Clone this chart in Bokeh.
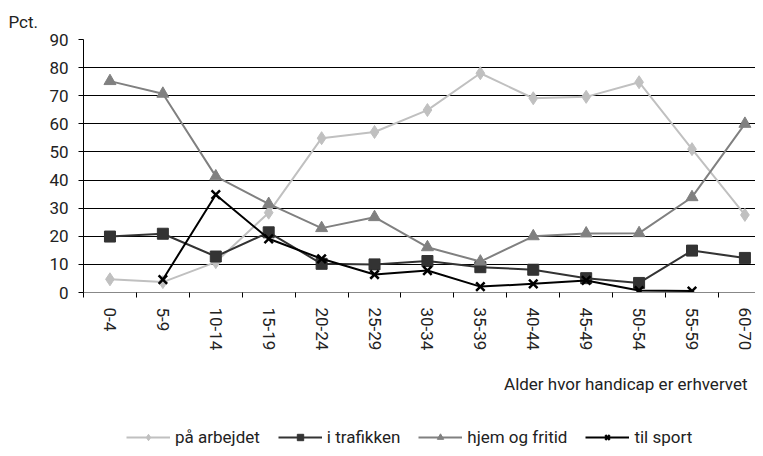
import math
from bokeh.plotting import figure
from bokeh.layouts import column
from bokeh.models import (Range1d, FixedTicker, Title, Legend, LegendItem,
                          ColumnDataSource)
from bokeh.embed import file_html
from bokeh.resources import INLINE

categories = ["0-4", "5-9", "10-14", "15-19", "20-24", "25-29", "30-34",
              "35-39", "40-44", "45-49", "50-54", "55-59", "60-70"]
paa_arbejdet = [4.7, 3.7, 10.8, 28.4, 54.9, 57.1, 64.9, 78.0, 69.1, 69.6, 74.8, 51.0, 27.6]
i_trafikken = [19.9, 20.9, 12.8, 21.4, 10.2, 10.0, 11.2, 9.0, 8.1, 5.1, 3.4, 14.9, 12.3]
hjem_fritid = [75.2, 70.7, 41.3, 31.5, 22.9, 26.8, 16.1, 11.0, 20.0, 21.0, 21.1, 33.9, 60.0]
til_sport = [float("nan"), 4.6, 34.8, 19.1, 12.0, 6.4, 7.8, 2.1, 3.1, 4.3, 0.7, 0.5, float("nan")]
series_names = ["på arbejdet", "i trafikken", "hjem og fritid", "til sport"]
y_ticks = [0, 10, 20, 30, 40, 50, 60, 70, 80, 90]

FONT = "Roboto"
TXT = "#222222"

xc = [i + 0.5 for i in range(len(categories))]
src = ColumnDataSource(dict(x=xc, a=paa_arbejdet, t=i_trafikken, h=hjem_fritid, s=til_sport))

p = figure(width=755, height=420, output_backend="svg", toolbar_location=None,
           x_range=Range1d(0, 12.70), y_range=Range1d(0, 90),
           min_border_left=83, min_border_right=0, min_border_top=39,
           min_border_bottom=128)
p.outline_line_color = None
p.background_fill_color = None
p.border_fill_color = None

# grid
p.xgrid.grid_line_color = None
p.ygrid.grid_line_color = "#000000"
p.ygrid.grid_line_width = 1
p.ygrid.ticker = FixedTicker(ticks=y_ticks)

# y axis
p.yaxis.ticker = FixedTicker(ticks=y_ticks)
p.yaxis.axis_line_color = "#000000"
p.yaxis.major_tick_line_color = "#000000"
p.yaxis.major_tick_out = 5
p.yaxis.major_tick_in = 0
p.yaxis.minor_tick_line_color = None
p.yaxis.major_label_standoff = 10
p.yaxis.major_label_text_font = FONT
p.yaxis.major_label_text_font_size = "17px"
p.yaxis.major_label_text_color = TXT

# x axis
p.xaxis.ticker = FixedTicker(ticks=xc, minor_ticks=list(range(len(categories) + 1)))
p.xaxis.major_label_overrides = {x: c for x, c in zip(xc, categories)}
p.xaxis.axis_line_color = "#888888"
p.xaxis.major_tick_line_color = None
p.xaxis.major_tick_out = 5
p.xaxis.minor_tick_line_color = "#000000"
p.xaxis.minor_tick_out = 5
p.xaxis.minor_tick_in = 0
p.xaxis.major_label_orientation = -math.pi / 2
p.xaxis.major_label_standoff = 10
p.xaxis.major_label_text_font = FONT
p.xaxis.major_label_text_font_size = "17px"
p.xaxis.major_label_text_color = TXT

# series styles
c_a, c_t, c_h, c_s = "#c0c0c0", "#333333", "#808080", "#000000"
styles = [
    (c_a, "diamond", 13, 1),
    (c_t, "square", 11, 1),
    (c_h, "triangle", 12, 1),
    (c_s, "x", 12, 2.5),
]
cols = ["a", "t", "h", "s"]
for col, (c, m, sz, lw) in zip(cols, styles):
    p.line("x", col, source=src, line_color=c, line_width=2)
    p.scatter("x", col, source=src, marker=m, size=sz, fill_color=c,
              line_color=c, line_width=lw)

# titles
t_top = Title(text="Pct.", align="left", offset=-75, text_font=FONT,
              text_font_size="17px", text_font_style="normal", text_color=TXT, standoff=16)
p.add_layout(t_top, "above")
t_x = Title(text="Alder hvor handicap er erhvervet", align="right", offset=8,
            text_font=FONT, text_font_size="17px", text_font_style="normal",
            text_color=TXT, standoff=37)
p.add_layout(t_x, "below")

# legend strip (same series, drawn outside its visible range; only the legend shows)
lg = figure(width=755, height=28, output_backend="svg", toolbar_location=None,
            x_range=Range1d(1000, 1001), y_range=Range1d(1000, 1001),
            x_axis_type=None, y_axis_type=None,
            min_border_left=0, min_border_right=0, min_border_top=0, min_border_bottom=0)
lg.outline_line_color = None
lg.grid.grid_line_color = None
lg.background_fill_color = None
lg.border_fill_color = None
items = []
for name, col, (c, m, sz, lw) in zip(series_names, cols, styles):
    r1 = lg.line("x", col, source=src, line_color=c, line_width=2)
    r2 = lg.scatter("x", col, source=src, marker=m, size=sz - 2,
                    fill_color=c, line_color=c, line_width=lw)
    items.append(LegendItem(label=name, renderers=[r1, r2]))
legend = Legend(items=items, orientation="horizontal", location=(43, 1))
legend.border_line_color = None
legend.background_fill_alpha = 0
legend.label_text_font = FONT
legend.label_text_font_size = "17px"
legend.label_text_color = TXT
legend.glyph_width = 44
legend.glyph_height = 16
legend.label_standoff = 5
legend.spacing = 18
legend.padding = 0
legend.margin = 0
lg.add_layout(legend, "center")

layout = column(p, lg, spacing=0)
open("out.html", "w").write(file_html(layout, INLINE))
